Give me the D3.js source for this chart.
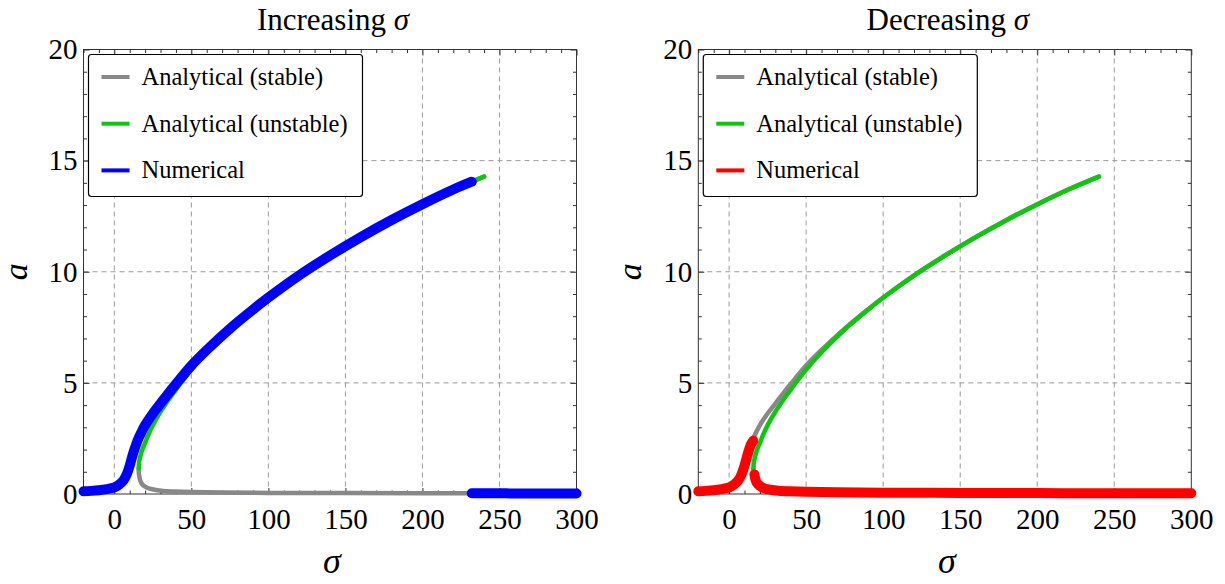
<!DOCTYPE html>
<html>
<head>
<meta charset="utf-8">
<script src="https://cdn.jsdelivr.net/npm/d3@7"></script>
<style>
  html, body { margin: 0; padding: 0; background: #fff; }
  svg { display: block; font-family: "Liberation Serif", "DejaVu Serif", serif; }
</style>
</head>
<body>
<svg id="chart" width="1225" height="584"></svg>
<script>
// ---------- data ----------
const sigmaTicks = [0, 50, 100, 150, 200, 250, 300];
const aTicks = [0, 5, 10, 15, 20];
const panelTitles = ["Increasing ", "Decreasing "];
const legendLabels = ["Analytical (stable)", "Analytical (unstable)", "Numerical"];

// analytical, upper stable branch
const sigmaStableUpper = [-20, -15, -10, -5, 0, 3, 6, 8, 10, 12, 14, 16, 18, 20, 25, 30, 35, 40, 50, 60, 75, 90, 100, 120, 140, 160, 180, 200, 220, 240];
const aStableUpper     = [0.12, 0.14, 0.17, 0.22, 0.30, 0.42, 0.62, 0.88, 1.28, 1.78, 2.20, 2.55, 2.84, 3.10, 3.62, 4.07, 4.52, 4.95, 5.78, 6.48, 7.44, 8.30, 8.84, 9.84, 10.73, 11.56, 12.33, 13.04, 13.70, 14.28];
// analytical, lower stable branch
const sigmaStableLower = [15.8, 16.0, 16.5, 17, 18, 20, 23, 27, 32, 40, 50, 70, 100, 150, 200, 250, 300];
const aStableLower     = [1.15, 0.90, 0.70, 0.58, 0.45, 0.33, 0.24, 0.18, 0.14, 0.11, 0.09, 0.07, 0.05, 0.04, 0.03, 0.03, 0.02];
// analytical, unstable (middle) branch
const sigmaUnstable = [15.8, 16.0, 16.5, 17, 18, 20, 22, 25, 30, 35, 40, 50, 60, 75, 90, 100, 120, 140, 160, 180, 200, 220, 240];
const aUnstable     = [1.15, 1.38, 1.58, 1.72, 1.96, 2.30, 2.65, 3.10, 3.70, 4.22, 4.70, 5.60, 6.38, 7.40, 8.28, 8.83, 9.83, 10.72, 11.55, 12.32, 13.03, 13.69, 14.28];

// numerical, increasing sigma (blue)
const sigmaIncUpper = [-20, -15, -10, -5, 0, 3, 6, 8, 10, 12, 14, 16, 18, 20, 25, 30, 35, 40, 50, 60, 75, 90, 100, 120, 140, 160, 180, 200, 220, 232];
const aIncUpper     = [0.12, 0.14, 0.17, 0.22, 0.30, 0.42, 0.62, 0.88, 1.28, 1.78, 2.20, 2.55, 2.84, 3.10, 3.62, 4.07, 4.52, 4.95, 5.78, 6.48, 7.44, 8.30, 8.84, 9.84, 10.73, 11.56, 12.33, 13.04, 13.70, 14.05];
const sigmaIncLower = [232, 250, 270, 300];
const aIncLower     = [0.03, 0.03, 0.02, 0.02];

// numerical, decreasing sigma (red)
const sigmaDecUpper = [-20, -15, -10, -5, 0, 3, 6, 8, 10, 12, 14, 15.7];
const aDecUpper     = [0.12, 0.14, 0.17, 0.22, 0.30, 0.42, 0.62, 0.88, 1.28, 1.78, 2.20, 2.40];
const sigmaDecLower = [16.4, 17, 18, 20, 23, 27, 32, 40, 50, 70, 100, 150, 200, 250, 300];
const aDecLower     = [0.88, 0.68, 0.50, 0.36, 0.25, 0.19, 0.15, 0.12, 0.10, 0.08, 0.06, 0.05, 0.04, 0.03, 0.03];

// ---------- drawing ----------
const zip = (xs, ys) => xs.map((x, i) => [x, ys[i]]);
const colStable = "#888888", colUnstable = "#0fc60f";

const panels = [
  { left: 83.5, title: panelTitles[0], numColor: "#0000ff",
    num: [zip(sigmaIncUpper, aIncUpper), zip(sigmaIncLower, aIncLower)] },
  { left: 698.3, title: panelTitles[1], numColor: "#ff0000",
    num: [zip(sigmaDecUpper, aDecUpper), zip(sigmaDecLower, aDecLower)] }
];
const W = 493, plotTop = 49.5, plotBottom = 494;

const svg = d3.select("#chart");

panels.forEach((p, pi) => {
  const x = d3.scaleLinear().domain([-20, 300]).range([p.left, p.left + W]);
  const y = d3.scaleLinear().domain([0, 20]).range([plotBottom, plotTop]);
  const g = svg.append("g");

  // grid
  g.selectAll(".gx").data(sigmaTicks.filter(t => t > -20 && t < 300)).enter().append("line")
    .attr("x1", d => x(d)).attr("x2", d => x(d)).attr("y1", plotTop).attr("y2", plotBottom)
    .attr("stroke", "#9a9a9a").attr("stroke-width", 1).attr("stroke-dasharray", "5,4");
  g.selectAll(".gy").data(aTicks.filter(t => t > 0 && t < 20)).enter().append("line")
    .attr("y1", d => y(d)).attr("y2", d => y(d)).attr("x1", p.left).attr("x2", p.left + W)
    .attr("stroke", "#9a9a9a").attr("stroke-width", 1).attr("stroke-dasharray", "5,4");

  // axes (ticks inward on all four sides)
  const minorX = d3.range(-20, 301, 10).filter(v => !sigmaTicks.includes(v));
  const minorY = d3.range(0, 21, 1).filter(v => !aTicks.includes(v));
  const axisStyle = sel => {
    sel.attr("font-family", null);
    sel.select(".domain").remove();
    sel.selectAll("line").attr("stroke", "#333");
    sel.selectAll("text").attr("fill", "#000").style("font-size", "29px")
      .style("font-family", "'Liberation Serif', serif");
  };
  g.append("g").attr("transform", `translate(0,${plotBottom})`)
    .call(d3.axisBottom(x).tickValues(sigmaTicks).tickSizeInner(-6).tickSizeOuter(0).tickPadding(14).tickFormat(d3.format("d")))
    .call(axisStyle);
  g.append("g").attr("transform", `translate(0,${plotBottom})`)
    .call(d3.axisBottom(x).tickValues(minorX).tickSize(-3.5).tickFormat(""))
    .call(axisStyle);
  g.append("g").attr("transform", `translate(0,${plotTop})`)
    .call(d3.axisTop(x).tickValues(sigmaTicks).tickSize(-6).tickFormat(""))
    .call(axisStyle);
  g.append("g").attr("transform", `translate(0,${plotTop})`)
    .call(d3.axisTop(x).tickValues(minorX).tickSize(-3.5).tickFormat(""))
    .call(axisStyle);
  g.append("g").attr("transform", `translate(${p.left},0)`)
    .call(d3.axisLeft(y).tickValues(aTicks).tickSizeInner(-6).tickSizeOuter(0).tickPadding(6).tickFormat(d3.format("d")))
    .call(axisStyle);
  g.append("g").attr("transform", `translate(${p.left},0)`)
    .call(d3.axisLeft(y).tickValues(minorY).tickSize(-3.5).tickFormat(""))
    .call(axisStyle);
  g.append("g").attr("transform", `translate(${p.left + W},0)`)
    .call(d3.axisRight(y).tickValues(aTicks).tickSize(-6).tickFormat(""))
    .call(axisStyle);
  g.append("g").attr("transform", `translate(${p.left + W},0)`)
    .call(d3.axisRight(y).tickValues(minorY).tickSize(-3.5).tickFormat(""))
    .call(axisStyle);

  // frame
  g.append("rect").attr("x", p.left).attr("y", plotTop).attr("width", W).attr("height", plotBottom - plotTop)
    .attr("fill", "none").attr("stroke", "#333").attr("stroke-width", 1);

  // curves
  const line = d3.line().x(d => x(d[0])).y(d => y(d[1])).curve(d3.curveCatmullRom.alpha(0.5));
  const drawLine = (pts, color, w) => g.append("path").attr("d", line(pts)).attr("fill", "none")
    .attr("stroke", color).attr("stroke-width", w).attr("stroke-linecap", "round").attr("stroke-linejoin", "round");

  drawLine(zip(sigmaStableUpper, aStableUpper), colStable, 4.5);
  drawLine(zip(sigmaStableLower, aStableLower), colStable, 4.5);
  drawLine(zip(sigmaUnstable, aUnstable), colUnstable, 4.5);
  p.num.forEach(seg => drawLine(seg, p.numColor, 10));

  // title
  const cx = p.left + W / 2 + 3;
  const t = g.append("text").attr("x", cx).attr("y", 30).attr("text-anchor", "middle")
    .style("font-size", "31px").attr("fill", "#000");
  t.append("tspan").text(p.title);
  t.append("tspan").style("font-style", "italic").text("σ");

  // axis labels
  g.append("text").attr("x", p.left + W / 2 + 2).attr("y", 573).attr("text-anchor", "middle")
    .style("font-size", "36px").style("font-style", "italic").attr("fill", "#000").text("σ");
  g.append("text").attr("transform", `translate(${p.left - 57},${(plotTop + plotBottom) / 2}) rotate(-90)`)
    .attr("text-anchor", "middle").style("font-size", "34px").style("font-style", "italic")
    .attr("fill", "#000").text("a");

  // legend
  const lx = p.left + 5, ly = plotTop + 5;
  const lg = g.append("g");
  lg.append("rect").attr("x", lx).attr("y", ly).attr("width", 274).attr("height", 142)
    .attr("rx", 3).attr("fill", "#fff").attr("stroke", "#000").attr("stroke-width", 1.2);
  const legendColors = [colStable, colUnstable, p.numColor];
  legendLabels.forEach((lab, i) => {
    const yy = ly + 22.5 + i * 46.7;
    lg.append("line").attr("x1", lx + 13).attr("x2", lx + 41).attr("y1", yy).attr("y2", yy)
      .attr("stroke", legendColors[i]).attr("stroke-width", 4);
    lg.append("text").attr("x", lx + 53).attr("y", yy + 8).style("font-size", "24.5px")
      .attr("fill", "#000").text(lab);
  });
});
</script>
</body>
</html>
